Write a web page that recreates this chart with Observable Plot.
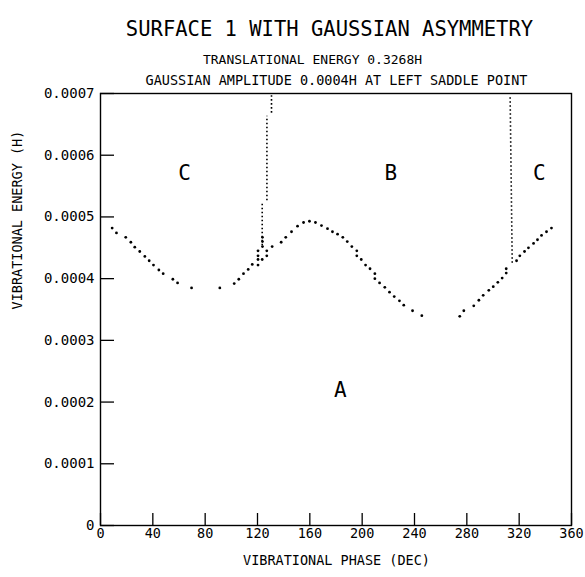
<!DOCTYPE html>
<html>
<head>
<meta charset="utf-8">
<script src="https://cdn.jsdelivr.net/npm/d3@7"></script>
<script src="https://cdn.jsdelivr.net/npm/@observablehq/plot@0.6"></script>
<style>
  html, body { margin: 0; padding: 0; background: white; }
</style>
</head>
<body>
<div id="chart"></div>
<script>
// ---- Text ----
const titleText = "SURFACE 1 WITH GAUSSIAN ASYMMETRY";
const subtitle1 = "TRANSLATIONAL ENERGY 0.3268H";
const subtitle2 = "GAUSSIAN AMPLITUDE 0.0004H AT LEFT SADDLE POINT";
const xLabel = "VIBRATIONAL PHASE (DEC)";
const yLabel = "VIBRATIONAL ENERGY (H)";

// ---- Tick values ----
const xTicks = [0, 40, 80, 120, 160, 200, 240, 280, 320, 360];
const yTicks = [0, 0.0001, 0.0002, 0.0003, 0.0004, 0.0005, 0.0006, 0.0007];

// ---- Boundary dots (vibrational phase in degrees, energy in hartree) ----
const dotPhase = [
  8.9, 12.2, 19.3, 23.2, 26.2, 30.0, 33.9, 37.2, 40.5, 44.6, 47.9, 55.3, 58.9, 69.6,
  91.2, 102.2, 105.7, 109.3, 112.9, 116.0,
  120.4, 120.4, 120.4, 120.4, 123.6, 123.8, 123.8, 123.8, 127.1, 127.1,
  131.2, 138.1, 141.6, 146.0, 150.6, 155.2, 159.7, 164.3, 168.9, 173.5, 177.3, 181.2,
  185.2, 188.6, 192.1, 195.9, 195.9, 199.3, 202.6, 206.0, 209.7, 209.7, 213.3, 217.3,
  220.9, 224.5, 228.5, 231.8, 238.5, 245.6,
  274.6, 277.7, 285.3, 289.2, 292.5, 296.8, 300.2, 303.7, 307.0, 310.1, 310.1,
  318.0, 320.5, 324.1, 327.1, 331.0, 334.0, 337.1, 340.9, 344.7
];
const dotEnergy = [
  0.000482, 0.000474, 0.000467, 0.000459, 0.000451, 0.000444, 0.000436, 0.000429, 0.000422, 0.000414, 0.000408, 0.000399, 0.000393, 0.000385,
  0.000385, 0.000392, 0.000399, 0.000408, 0.000415, 0.000423,
  0.000422, 0.000431, 0.000437, 0.000445, 0.000431, 0.000452, 0.000460, 0.000467, 0.000445, 0.000437,
  0.000452, 0.000459, 0.000467, 0.000476, 0.000485, 0.000491, 0.000493, 0.000491, 0.000486, 0.000481, 0.000476, 0.000472,
  0.000467, 0.000460, 0.000452, 0.000445, 0.000437, 0.000431, 0.000422, 0.000416, 0.000408, 0.000400, 0.000393, 0.000386,
  0.000378, 0.000371, 0.000364, 0.000357, 0.000348, 0.000340,
  0.000339, 0.000348, 0.000356, 0.000365, 0.000373, 0.000381, 0.000387, 0.000394, 0.000401, 0.000409, 0.000416,
  0.000429, 0.000437, 0.000444, 0.000450, 0.000457, 0.000463, 0.000470, 0.000476, 0.000482
];

// ---- Dense dotted vertical boundaries (start / end) ----
const spikePhaseStart  = [123.6, 127.2, 130.7, 313.1];
const spikeEnergyStart = [0.000454, 0.000527, 0.000669, 0.000694];
const spikePhaseEnd    = [123.6, 127.2, 130.7, 314.7];
const spikeEnergyEnd   = [0.000523, 0.000664, 0.000697, 0.000425];

// ---- Region labels ----
const regionNames  = ["C", "B", "C", "A"];
const regionPhase  = [64.2, 222.0, 335.5, 183.4];
const regionEnergy = [0.000570, 0.000570, 0.000570, 0.000219];

const dots = dotPhase.map((p, i) => ({phase: p, energy: dotEnergy[i]}));
const spikes = spikePhaseStart.map((p, i) => ({
  x1: p, y1: spikeEnergyStart[i], x2: spikePhaseEnd[i], y2: spikeEnergyEnd[i]
}));
const regions = regionNames.map((n, i) => ({name: n, phase: regionPhase[i], energy: regionEnergy[i]}));

const chart = Plot.plot({
  width: 585,
  height: 577,
  marginLeft: 100,
  marginRight: 14,
  marginTop: 93,
  marginBottom: 52,
  x: {domain: [0, 360]},
  y: {domain: [0, 0.0007]},
  style: {
    fontFamily: "'DejaVu Sans Mono', monospace",
    fontSize: "13.5px",
    color: "black",
    background: "white"
  },
  marks: [
    Plot.frame({stroke: "black", strokeWidth: 1.4}),
    Plot.axisX({ticks: xTicks, tickSize: -12, tickPadding: 15, strokeWidth: 1.3, label: null, fontSize: 13.5}),
    Plot.axisY({ticks: yTicks, tickSize: -14, tickPadding: 20, strokeWidth: 1.3, label: null, fontSize: 14,
      tickFormat: d => d === 0 ? "0" : d.toFixed(4)}),
    Plot.link(spikes, {x1: "x1", y1: "y1", x2: "x2", y2: "y2", stroke: "black",
      strokeWidth: 1.6, strokeDasharray: "1.6,2.4"}),
    Plot.dot(dots, {x: "phase", y: "energy", r: 1.4, fill: "black", stroke: "none"}),
    Plot.text(regions, {x: "phase", y: "energy", text: "name", fontSize: 21}),
    Plot.text([titleText], {text: d => d, frameAnchor: "top", dy: -72, dx: -6.5, fontSize: 20.5}),
    Plot.text([subtitle1], {text: d => d, frameAnchor: "top", dy: -39, dx: -23.5, fontSize: 13}),
    Plot.text([subtitle2], {text: d => d, frameAnchor: "top", dy: -18, dx: 0.5, fontSize: 13.5}),
    Plot.text([xLabel], {text: d => d, frameAnchor: "bottom", dy: 39, dx: 0.5, fontSize: 13.5}),
    Plot.text([yLabel], {text: d => d, frameAnchor: "left", rotate: -90, dx: -83, fontSize: 13.5})
  ]
});

document.getElementById("chart").appendChild(chart);
</script>
</body>
</html>
